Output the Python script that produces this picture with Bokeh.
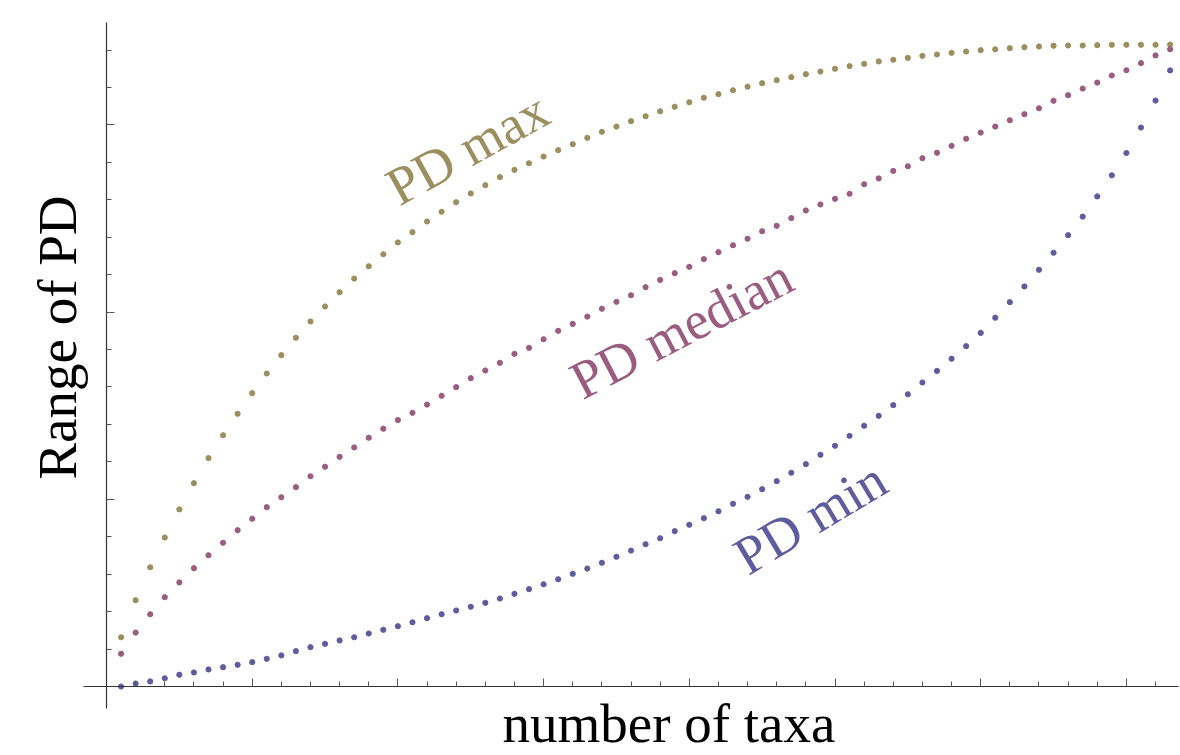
from bokeh.plotting import figure
from bokeh.models import Label, FixedTicker, Range1d
from bokeh.embed import file_html
from bokeh.resources import INLINE

# number of taxa
taxa = list(range(1, 74))

pd_max = [0.263, 0.461, 0.637, 0.796, 0.946, 1.086, 1.220, 1.342, 1.457, 1.567,
          1.672, 1.770, 1.863, 1.950, 2.030, 2.106, 2.179, 2.245, 2.309, 2.372,
          2.427, 2.484, 2.536, 2.587, 2.634, 2.678, 2.721, 2.760, 2.795, 2.831,
          2.865, 2.897, 2.931, 2.963, 2.991, 3.020, 3.046, 3.073, 3.097, 3.121,
          3.145, 3.164, 3.185, 3.204, 3.223, 3.239, 3.255, 3.271, 3.285, 3.300,
          3.314, 3.326, 3.339, 3.348, 3.358, 3.369, 3.376, 3.385, 3.392, 3.399,
          3.404, 3.410, 3.415, 3.419, 3.423, 3.424, 3.424, 3.426, 3.428, 3.428,
          3.428, 3.428, 3.429]

pd_median = [0.175, 0.288, 0.386, 0.477, 0.556, 0.632, 0.701, 0.768, 0.835, 0.896,
             0.958, 1.011, 1.065, 1.123, 1.174, 1.227, 1.277, 1.329, 1.377, 1.423,
             1.462, 1.506, 1.553, 1.599, 1.647, 1.688, 1.729, 1.777, 1.809, 1.855,
             1.900, 1.937, 1.976, 2.018, 2.055, 2.090, 2.133, 2.172, 2.208, 2.242,
             2.283, 2.320, 2.357, 2.392, 2.432, 2.461, 2.502, 2.543, 2.575, 2.605,
             2.632, 2.683, 2.714, 2.754, 2.779, 2.822, 2.851, 2.888, 2.926, 2.959,
             2.991, 3.025, 3.057, 3.089, 3.129, 3.159, 3.194, 3.226, 3.264, 3.292,
             3.330, 3.371, 3.404]

pd_min = [0.000, 0.016, 0.027, 0.044, 0.063, 0.075, 0.091, 0.103, 0.116, 0.130,
          0.148, 0.166, 0.189, 0.210, 0.228, 0.246, 0.263, 0.283, 0.303, 0.322,
          0.343, 0.365, 0.386, 0.406, 0.426, 0.447, 0.470, 0.495, 0.520, 0.546,
          0.573, 0.602, 0.630, 0.661, 0.693, 0.726, 0.760, 0.792, 0.830, 0.864,
          0.899, 0.936, 0.976, 1.013, 1.054, 1.097, 1.142, 1.188, 1.238, 1.286,
          1.339, 1.393, 1.446, 1.503, 1.561, 1.624, 1.686, 1.751, 1.818, 1.889,
          1.970, 2.053, 2.137, 2.226, 2.317, 2.411, 2.510, 2.618, 2.731, 2.850,
          2.986, 3.130, 3.291]

x_major = [10, 20, 30, 40, 50, 60, 70]
x_minor = [v for v in range(2, 74, 2) if v % 10 != 0]
y_major = [1, 2, 3]
y_minor = [round(0.2 * k, 1) for k in range(1, 18) if k % 5 != 0]

C_MAX = "#9b8f5f"
C_MED = "#9a5c7f"
C_MIN = "#5f5c9e"
FONT = "Liberation Serif"

p = figure(width=1180, height=755, output_backend="svg", toolbar_location=None,
           x_range=Range1d(-7.275, 73.713), y_range=Range1d(-0.3686, 3.6645),
           min_border=0)
p.outline_line_color = None
p.grid.visible = False

for ax, maj, mn, bnd in ((p.xaxis[0], x_major, x_minor, (-1.58, 73.58)),
                         (p.yaxis[0], y_major, y_minor, (-0.1175, 3.547))):
    ax.fixed_location = 0
    ax.bounds = bnd
    ax.ticker = FixedTicker(ticks=maj, minor_ticks=mn)
    ax.major_label_overrides = {t: "" for t in maj}
    ax.axis_line_color = "#333333"
    ax.axis_line_width = 1.2
    ax.major_tick_line_color = "#555555"
    ax.minor_tick_line_color = "#555555"
    ax.major_tick_in = 8
    ax.major_tick_out = 0
    ax.minor_tick_in = 5
    ax.minor_tick_out = 0

p.scatter(taxa, pd_max, size=5.2, color=C_MAX)
p.scatter(taxa, pd_median, size=5.2, color=C_MED)
p.scatter(taxa, pd_min, size=5.2, color=C_MIN)

def lab(x, y, text, angle, color, size="54px", baseline="middle"):
    p.add_layout(Label(x=x, y=y, text=text, angle=angle, angle_units="deg",
                       text_font=FONT, text_font_size=size, text_color=color,
                       text_align="center", text_baseline=baseline))

lab(24.78, 2.874, "PD max", 29, C_MAX)
lab(39.46, 1.912, "PD median", 27.5, C_MED)
lab(48.3, 0.90, "PD min", 31, C_MIN)
lab(-3.36, 1.864, "Range of PD", 90, "black", "55px", "alphabetic")
lab(38.6, -0.198, "number of taxa", 0, "black", "55px", "alphabetic")

open("out.html", "w").write(file_html(p, INLINE))
